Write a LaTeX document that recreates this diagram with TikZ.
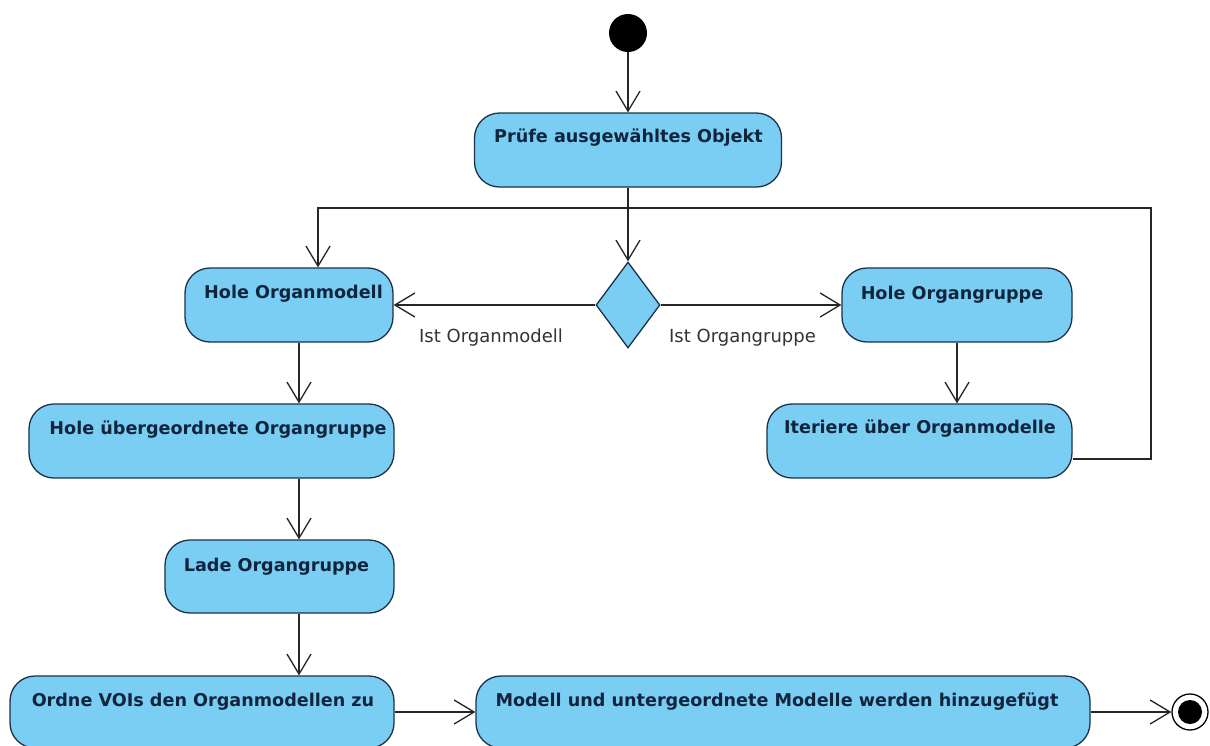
\documentclass[tikz,border=0pt]{standalone}
\usepackage{fontspec}
\usetikzlibrary{arrows.meta,shapes.geometric,calc}
\newfontfamily\diafont{DejaVu Sans}
\definecolor{actfill}{HTML}{7ACDF3}
\definecolor{actline}{HTML}{1C3148}
\definecolor{acttext}{HTML}{10243C}
\definecolor{guardtext}{HTML}{333333}
\tikzset{
  actbox/.style={shape=rectangle, draw=actline, fill=actfill, line width=1.3pt,
    rounded corners=25pt, inner sep=0pt},
  acttitle/.style={text=acttext, inner sep=0pt,
    font=\diafont\bfseries\fontsize{17.6}{20}\selectfont},
  guard/.style={text=guardtext, inner sep=0pt,
    font=\diafont\fontsize{18}{20}\selectfont},
  flow/.style={draw=black!85, line width=1.3pt,
    -{Straight Barb[length=20pt,width=24pt,line width=1.3pt]}},
  decision/.style={shape=diamond, draw=actline, fill=actfill, line width=1.3pt,
    inner sep=0pt, minimum width=64pt, minimum height=86pt}
}
\begin{document}
\begin{tikzpicture}[x=1pt,y=-1pt]
  \clip (0,0) rectangle (1210,745);
  \fill[white] (0,0) rectangle (1210,745);

  % initial and final nodes
  \node[circle, fill=black, inner sep=0pt, minimum size=38pt] (start) at (628,33) {};
  \node[circle, draw=black, line width=1.3pt, fill=white, inner sep=0pt, minimum size=36pt] (final) at (1190,712) {};
  \node[circle, fill=black, inner sep=0pt, minimum size=24pt] (finaldot) at (1190,712) {};

  % actions
  \node[actbox, minimum width=307pt, minimum height=74pt] (pruefe) at (628,150) {};
  \node[acttitle] (pruefeT) at (628.5,138) {Prüfe ausgewähltes Objekt};

  \node[decision] (dec) at (628,305) {};

  \node[actbox, minimum width=208pt, minimum height=74pt] (hom) at (289,305) {};
  \node[acttitle] (homT) at (293.5,294) {Hole Organmodell};

  \node[actbox, minimum width=230pt, minimum height=74pt] (hog) at (957,305) {};
  \node[acttitle] (hogT) at (952,295) {Hole Organgruppe};

  \node[actbox, minimum width=305pt, minimum height=74pt] (iter) at (919.5,441) {};
  \node[acttitle] (iterT) at (920,429) {Iteriere über Organmodelle};

  \node[actbox, minimum width=365pt, minimum height=74pt] (hueb) at (211.5,441) {};
  \node[acttitle] (huebT) at (218,430) {Hole übergeordnete Organgruppe};

  \node[actbox, minimum width=229pt, minimum height=73pt] (lade) at (279.5,576.5) {};
  \node[acttitle] (ladeT) at (276.5,567) {Lade Organgruppe};

  \node[actbox, minimum width=384pt, minimum height=72pt] (ordne) at (202,712) {};
  \node[acttitle] (ordneT) at (203,702) {Ordne VOIs den Organmodellen zu};

  \node[actbox, minimum width=614pt, minimum height=72pt] (modell) at (783,712) {};
  \node[acttitle] (modellT) at (777,702) {Modell und untergeordnete Modelle werden hinzugefügt};

  % routing helpers
  \coordinate (colx) at (299,0);
  \coordinate (loopR) at (1151,208);
  \coordinate (loopL) at (318,208);

  % control flows
  \draw[flow] (start) -- (pruefe.north);
  \draw[flow] (pruefe.south) -- (dec.north);
  \draw[flow] ($(iter.east)+(0,18)$) -| (loopR) -- (loopL) -- (loopL |- hom.north);
  \draw[flow] (dec.west) -- (hom.east);
  \draw[flow] (dec.east) -- (hog.west);
  \node[guard] (g1) at (491,338) {Ist Organmodell};
  \node[guard] (g2) at (742.5,338) {Ist Organgruppe};
  \draw[flow] (hog.south) -- (hog.south |- iter.north);
  \draw[flow] (hom.south -| colx) -- (hueb.north -| colx);
  \draw[flow] (hueb.south -| colx) -- (lade.north -| colx);
  \draw[flow] (lade.south -| colx) -- (ordne.north -| colx);
  \draw[flow] (ordne.east) -- (modell.west);
  \draw[flow] (modell.east) -- (final.west);
\end{tikzpicture}
\end{document}
